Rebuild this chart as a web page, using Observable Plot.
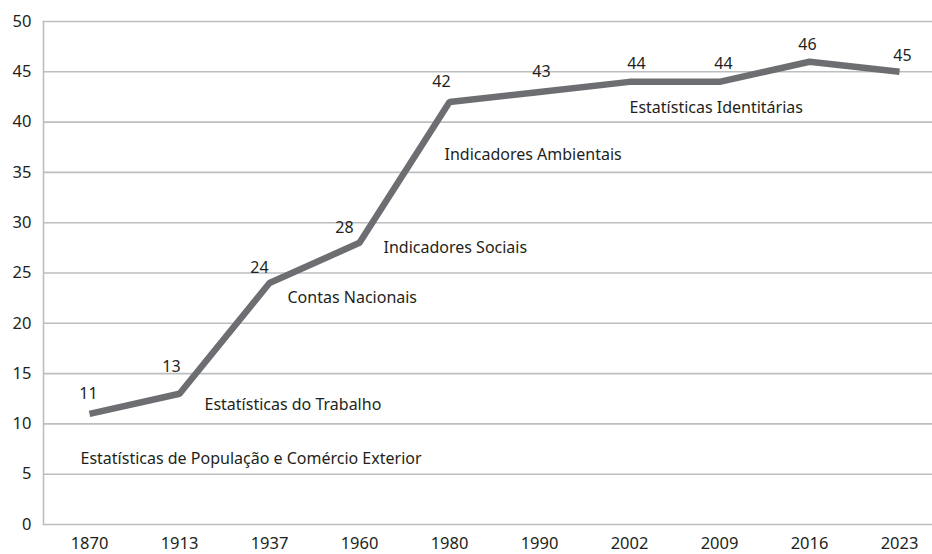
<!DOCTYPE html>
<html>
<head>
<meta charset="utf-8">
<script src="https://cdn.jsdelivr.net/npm/d3@7"></script>
<script src="https://cdn.jsdelivr.net/npm/@observablehq/plot@0.6"></script>
<style>
  html, body { margin: 0; padding: 0; background: #fff; }
</style>
</head>
<body>
<div id="chart"></div>
<script>
const years = ["1870", "1913", "1937", "1960", "1980", "1990", "2002", "2009", "2016", "2023"];
const counts = [11, 13, 24, 28, 42, 43, 44, 44, 46, 45];
const yTicks = [0, 5, 10, 15, 20, 25, 30, 35, 40, 45, 50];

// label nudges (pixels) for the value labels
const labelDx = [-1, -8, -10, -15, -8, 2, 7, 4, -2, 3];
const labelDy = [-20, -27, -15, -15, -20, -20, -18, -18, -17, -16];

const noteTexts = [
  "Estatísticas de População e Comércio Exterior",
  "Estatísticas do Trabalho",
  "Contas Nacionais",
  "Indicadores Sociais",
  "Indicadores Ambientais",
  "Estatísticas Identitárias"
];
const noteYears = ["1870", "1913", "1937", "1960", "1980", "2002"];
const noteLevels = [6.5, 11.9, 22.5, 27.5, 36.7, 41.4];
const noteShift = [-9, 25, 18, 24, -5, 0];

const data = years.map((y, i) => ({year: y, value: counts[i], dx: labelDx[i], dy: labelDy[i]}));
const notes = noteTexts.map((t, i) => ({text: t, year: noteYears[i], value: noteLevels[i], dx: noteShift[i]}));

const font = "'Noto Sans', 'Open Sans', sans-serif";
const textColor = "#231f20";
const gridColor = "#bcbec0";

const chart = Plot.plot({
  width: 932,
  height: 554,
  marginLeft: 43,
  marginRight: 0,
  marginTop: 21,
  marginBottom: 30,
  style: {fontFamily: font, fontSize: "16px", color: textColor, background: "#fff"},
  x: {type: "point", domain: years, range: [88, 900], padding: 0, label: null},
  y: {domain: [0, 50], label: null},
  marks: [
    Plot.ruleY(yTicks, {stroke: gridColor, strokeWidth: 1.6}),
    Plot.frame({anchor: "left", stroke: gridColor, strokeWidth: 1.6}),
    Plot.axisY({ticks: yTicks, tickSize: 0, tickPadding: 12, fontSize: 16.5, fill: textColor, label: null}),
    Plot.axisX({tickSize: 0, tickPadding: 13, fontSize: 16.5, fill: textColor, label: null}),
    Plot.line(data, {x: "year", y: "value", stroke: "#6d6e71", strokeWidth: 6.5, strokeLinejoin: "miter", strokeLinecap: "butt"}),
    ...data.map(d => Plot.text([d], {x: "year", y: "value", text: r => String(r.value), dx: d.dx, dy: d.dy, fontSize: 16, fill: textColor})),
    ...notes.map(n => Plot.text([n], {x: "year", y: "value", text: "text", dx: n.dx, textAnchor: "start", fontSize: 16, fill: textColor}))
  ]
});

document.getElementById("chart").appendChild(chart);
</script>
</body>
</html>
